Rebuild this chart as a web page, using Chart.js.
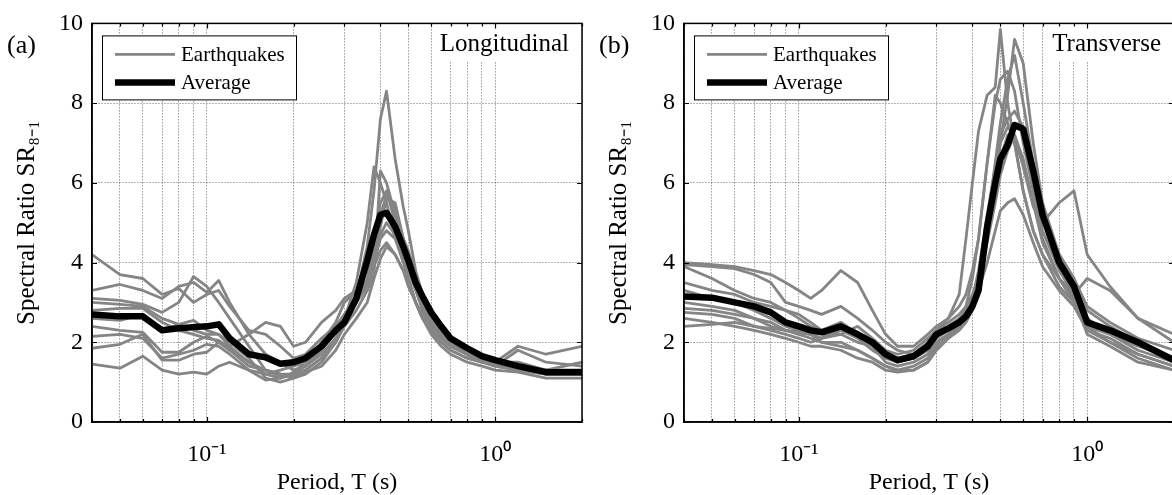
<!DOCTYPE html>
<html><head><meta charset="utf-8">
<script src="https://cdn.jsdelivr.net/npm/chart.js@4.4.0/dist/chart.umd.min.js"></script>
<style>
html,body{margin:0;padding:0;background:#fff;width:1172px;height:495px;overflow:hidden;}
#wrap{position:relative;width:1172px;height:495px;overflow:hidden;}
.panel{position:absolute;top:0;width:600px;height:495px;}
#pa{left:0}
#pb{left:592px}
canvas{display:block}
</style></head><body>
<div id="wrap">
<div class="panel" id="pa"><canvas id="ca" width="600" height="495"></canvas></div>
<div class="panel" id="pb"><canvas id="cb" width="600" height="495"></canvas></div>
</div>
<script>
// ---- data ----
const periods = [0.04,0.05,0.06,0.07,0.08,0.09,0.10,0.11,0.12,
                 0.14,0.16,0.18,0.20,0.22,0.25,0.28,0.30,0.33,
                 0.36,0.38,0.40,0.42,0.45,0.48,0.50,0.53,0.56,
                 0.60,0.65,0.70,0.80,0.90,1.0,1.2,1.5,2.0];
const xGridTicks = [0.04,0.05,0.06,0.07,0.08,0.09,0.1,0.2,0.3,0.4,0.5,0.6,0.7,0.8,0.9,1,2];
const xTickLabels = {0.1:'10⁻¹', 1:'10⁰'};
const yTicks = [0,2,4,6,8,10];
const seriesNames = ['Earthquakes','Average'];
const panelTags = ['(a)','(b)'];
const directionNames = ['Longitudinal','Transverse'];

// (a) Longitudinal
const lonAvg = [2.7,2.65,2.65,2.3,2.35,2.38,2.4,2.45,2.1,
                1.7,1.62,1.46,1.5,1.6,1.9,2.3,2.5,3.1,
                4.05,4.7,5.2,5.25,4.9,4.4,4.05,3.5,3.15,
                2.75,2.4,2.1,1.85,1.65,1.55,1.4,1.25,1.25];
const lonEq1 = [4.2,3.7,3.6,3.2,3.35,3.0,3.2,3.3,2.9, 2.3,2.2,1.9,1.6,1.7,2.1,2.4,2.7,3.1, 3.9,4.6,5.5,5.8,5.0,4.5,4.1,3.5,3.1, 2.7,2.3,2.0,1.8,1.6,1.5,1.35,1.2,1.2];
const lonEq2 = [3.3,3.45,3.3,3.1,3.4,3.5,3.25,3.55,3.0, 2.2,1.7,1.5,1.3,1.4,1.7,2.1,2.5,3.0, 3.6,4.4,5.2,5.7,5.4,4.6,4.2,3.5,3.0, 2.6,2.2,1.9,1.7,1.6,1.5,1.5,1.3,1.3];
const lonEq3 = [3.1,3.05,2.95,2.75,3.0,3.65,3.4,3.0,2.6, 1.9,1.3,1.2,1.1,1.2,1.5,2.0,2.6,3.5, 5.0,6.4,6.0,5.5,4.6,4.0,3.6,3.0,2.7, 2.4,2.1,1.9,1.7,1.5,1.45,1.3,1.2,1.2];
const lonEq4 = [3.0,2.95,2.9,2.6,2.45,2.3,2.2,2.2,2.0, 1.6,1.1,1.0,1.1,1.3,1.6,2.0,2.5,3.2, 4.4,5.8,7.6,8.3,6.6,5.4,4.8,3.8,3.2, 2.7,2.3,2.0,1.7,1.5,1.4,1.3,1.2,1.2];
const lonEq5 = [2.6,2.55,2.7,2.3,2.45,2.55,2.3,2.2,1.9, 1.5,1.3,1.2,1.2,1.4,1.8,2.3,2.6,3.0, 3.4,4.0,4.6,4.8,4.6,4.2,3.8,3.3,2.8, 2.4,2.1,1.9,1.7,1.5,1.4,1.8,1.5,1.4];
const lonEq6 = [2.4,2.3,2.25,1.75,1.75,2.0,2.15,2.0,1.9, 2.2,2.5,2.4,1.9,2.0,2.5,2.8,3.1,3.3, 3.5,3.9,4.3,4.5,4.2,3.8,3.4,3.0,2.6, 2.3,2.0,1.8,1.6,1.5,1.5,1.9,1.7,1.9];
const lonEq7 = [2.15,2.2,2.1,1.6,1.7,1.8,1.95,1.9,1.7, 1.3,1.05,1.1,1.2,1.3,1.6,2.0,2.4,2.8, 3.3,4.0,4.7,5.0,4.7,4.1,3.6,3.0,2.6, 2.2,1.9,1.7,1.5,1.4,1.3,1.25,1.1,1.1];
const lonEq8 = [1.85,1.95,2.2,1.55,1.55,1.7,1.75,2.0,1.8, 1.4,1.3,1.15,1.15,1.25,1.4,1.8,2.2,2.6, 3.0,3.6,4.1,4.4,4.2,3.8,3.5,3.0,2.6, 2.3,2.0,1.8,1.6,1.5,1.45,1.4,1.3,1.5];
const lonEq9 = [1.45,1.35,1.65,1.3,1.2,1.25,1.2,1.4,1.5, 1.3,1.2,1.3,1.4,1.5,1.8,2.3,2.7,3.1, 3.5,4.2,4.9,5.6,5.5,4.6,4.2,3.4,2.9, 2.5,2.1,1.9,1.7,1.55,1.4,1.3,1.3,1.3];
const lonEq10 = [2.8,2.85,2.85,2.5,2.3,2.2,2.1,2.05,1.85, 1.5,1.2,1.1,1.25,1.5,2.0,2.5,3.0,3.3, 3.3,3.7,6.3,6.0,5.2,4.6,4.3,3.7,3.2, 2.7,2.4,2.1,1.8,1.6,1.45,1.35,1.2,1.25];

// (b) Transverse
const traAvg = [3.15,3.12,3.0,2.9,2.75,2.5,2.4,2.3,2.25,
                2.4,2.2,2.0,1.7,1.55,1.65,1.9,2.2,2.35,
                2.5,2.65,2.9,3.3,4.9,6.0,6.6,6.95,7.45,
                7.35,6.3,5.2,4.0,3.4,2.5,2.3,2.0,1.55];
const traEq1 = [4.0,3.95,3.9,3.8,3.7,3.5,3.3,3.1,3.3, 3.8,3.5,2.8,2.2,1.9,1.9,2.2,2.4,2.6, 3.2,4.6,6.0,7.3,8.2,8.4,9.85,8.0,7.0, 5.8,4.8,4.2,3.4,3.0,2.4,2.2,1.9,1.6];
const traEq2 = [3.95,3.9,3.85,3.7,3.5,3.0,2.9,2.8,2.7, 2.9,2.6,2.3,2.0,1.8,1.7,1.9,2.1,2.3, 2.5,2.7,3.0,3.6,5.0,6.5,7.5,8.6,9.2, 8.0,6.5,5.3,4.2,3.6,2.8,2.4,2.0,1.6];
const traEq3 = [3.9,3.6,3.3,3.1,3.0,2.8,2.7,2.5,2.3, 2.5,2.2,2.0,1.7,1.5,1.6,1.8,2.0,2.2, 2.5,2.9,3.6,4.6,6.5,8.2,8.0,7.5,7.0, 5.8,4.8,4.2,3.6,3.2,2.6,2.2,1.8,1.5];
const traEq4 = [3.5,3.3,3.2,3.0,2.9,2.8,2.6,2.4,2.3, 2.2,2.4,2.1,1.8,1.7,1.8,2.1,2.3,2.5, 2.7,2.9,3.2,3.6,4.8,6.0,7.0,8.2,9.6, 9.0,7.0,5.5,4.2,3.6,2.9,2.5,2.1,1.8];
const traEq5 = [3.3,3.1,3.0,2.8,2.6,2.4,2.3,2.2,2.1, 2.2,2.0,1.9,1.5,1.4,1.5,1.7,2.0,2.2, 2.4,2.6,3.0,3.5,4.5,5.5,6.2,6.8,7.2, 6.4,5.4,5.0,5.5,5.8,4.2,3.4,2.6,2.2];
const traEq6 = [3.0,2.9,2.8,2.6,2.5,2.3,2.2,2.1,2.0, 2.0,1.8,1.6,1.4,1.3,1.4,1.6,1.9,2.2, 2.4,2.6,2.9,3.3,4.0,4.8,5.3,5.5,5.6, 5.2,4.5,3.9,3.3,2.9,2.3,2.0,1.7,1.4];
const traEq7 = [2.85,2.8,2.7,2.6,2.4,2.3,2.25,2.2,2.1, 2.3,2.1,1.8,1.6,1.5,1.6,1.9,2.2,2.4, 2.6,2.8,3.1,3.6,5.0,6.4,7.2,7.6,7.8, 7.4,6.3,5.2,3.9,3.1,2.3,2.1,1.7,1.4];
const traEq8 = [2.75,2.7,2.6,2.4,2.35,2.3,2.25,2.2,2.0, 1.9,1.8,1.6,1.4,1.3,1.3,1.5,1.8,2.1, 2.3,2.5,2.8,3.4,4.6,5.8,6.6,7.2,7.0, 6.5,5.5,4.6,3.6,3.1,2.2,1.9,1.5,1.3];
const traEq9 = [2.6,2.5,2.4,2.3,2.2,2.1,2.0,1.9,1.9, 1.8,1.6,1.5,1.3,1.25,1.3,1.5,1.8,2.1, 2.4,2.7,3.1,3.8,5.2,6.4,7.0,7.4,7.2, 6.6,5.5,4.5,3.6,3.0,2.4,2.0,1.6,1.3];
const traEq10 = [2.4,2.45,2.5,2.4,2.3,2.2,2.1,2.0,2.1, 2.5,2.2,1.9,1.7,1.6,1.7,2.0,2.3,2.6, 2.9,3.2,3.8,4.6,6.5,8.0,8.6,8.8,8.3, 7.0,5.8,4.8,3.8,3.2,3.6,3.3,2.6,2.0];

const lonEq = [lonEq1,lonEq2,lonEq3,lonEq4,lonEq5,lonEq6,lonEq7,lonEq8,lonEq9,lonEq10];
const traEq = [traEq1,traEq2,traEq3,traEq4,traEq5,traEq6,traEq7,traEq8,traEq9,traEq10];

// ---- styles ----
const FONT = '"Liberation Serif", "Times New Roman", serif';
const GRAY = '#858585';

const decor = {
  id: 'decor',
  afterDatasetsDraw(chart, args, opts) {
    const {ctx, chartArea: ca} = chart;
    ctx.save();
    ctx.font = `25px ${FONT}`;
    const tw = ctx.measureText(opts.direction).width;
    const tx = ca.right - 13;
    ctx.fillStyle = '#fff';
    ctx.fillRect(tx - tw - 7, ca.top + 1, ca.right - (tx - tw - 7), 37);
    ctx.fillStyle = '#000';
    ctx.textAlign = 'right'; ctx.textBaseline = 'middle';
    ctx.fillText(opts.direction, tx, ca.top + 21);
    const lx = ca.left + 10, ly = ca.top + 12, lw = 194, lh = 64;
    ctx.fillStyle = '#fff'; ctx.fillRect(lx, ly, lw, lh);
    ctx.strokeStyle = '#000'; ctx.lineWidth = 1;
    ctx.strokeRect(lx + 0.5, ly + 0.5, lw, lh);
    const ds = chart.data.datasets;
    const items = [ds[0], ds[ds.length - 1]];
    const rows = [ly + 19, ly + 47];
    ctx.font = `21px ${FONT}`; ctx.textAlign = 'left'; ctx.textBaseline = 'middle';
    items.forEach((d, i) => {
      ctx.strokeStyle = d.borderColor; ctx.lineWidth = d.borderWidth; ctx.lineCap = 'butt';
      ctx.beginPath(); ctx.moveTo(lx + 13, rows[i]); ctx.lineTo(lx + 73, rows[i]); ctx.stroke();
      ctx.fillStyle = '#000';
      ctx.fillText(d.label, lx + 79, rows[i] + 1);
    });
    const xs = chart.scales.x, ys = chart.scales.y;
    ctx.strokeStyle = '#000'; ctx.lineWidth = 1.2;
    xGridTicks.forEach(v => {
      const px = Math.round(xs.getPixelForValue(v)) + 0.5;
      const len = (v === 0.1 || v === 1) ? 5 : 3;
      ctx.beginPath();
      ctx.moveTo(px, ca.bottom); ctx.lineTo(px, ca.bottom - len);
      ctx.moveTo(px, ca.top); ctx.lineTo(px, ca.top + len);
      ctx.stroke();
    });
    yTicks.forEach(v => {
      const py = Math.round(ys.getPixelForValue(v)) + 0.5;
      ctx.beginPath();
      ctx.moveTo(ca.left, py); ctx.lineTo(ca.left + 5, py);
      ctx.moveTo(ca.right, py); ctx.lineTo(ca.right - 5, py);
      ctx.stroke();
    });
    ctx.lineWidth = 1.5; ctx.strokeStyle = '#000';
    ctx.strokeRect(ca.left, ca.top, ca.right - ca.left, ca.bottom - ca.top);
    ctx.restore();
  },
  afterDraw(chart, args, opts) {
    const ctx = chart.ctx;
    ctx.save();
    ctx.font = `26px ${FONT}`; ctx.fillStyle = '#000';
    ctx.textAlign = 'left'; ctx.textBaseline = 'middle';
    ctx.fillText(opts.tag, 7, 46);
    ctx.restore();
  }
};

function makeChart(id, eqList, avg, tag, direction) {
  const datasets = eqList.map(s => ({
    label: seriesNames[0],
    data: periods.map((p, j) => ({x: p, y: s[j]})),
    borderColor: GRAY, borderWidth: 2.8, pointRadius: 0,
    borderJoinStyle: 'round', tension: 0, order: 1
  }));
  datasets.push({
    label: seriesNames[1],
    data: periods.map((p, j) => ({x: p, y: avg[j]})),
    borderColor: '#000', borderWidth: 6.5, pointRadius: 0,
    borderJoinStyle: 'round', tension: 0, order: 0
  });
  const gridCommon = {color: 'rgba(0,0,0,0.6)', lineWidth: 1, drawTicks: false};
  return new Chart(document.getElementById(id), {
    type: 'line',
    data: {datasets},
    options: {
      responsive: false, animation: false, devicePixelRatio: 1,
      layout: {padding: {top: 20, right: 12, left: 0, bottom: 0}},
      plugins: {legend: {display: false}, tooltip: {enabled: false},
                decor: {tag, direction}},
      scales: {
        x: {
          type: 'logarithmic', min: 0.04, max: 2,
          afterBuildTicks: axis => { axis.ticks = xGridTicks.map(v => ({value: v})); },
          afterFit: s => { s.height = 73; },
          ticks: {autoSkip: false, maxRotation: 0, minRotation: 0, padding: 18,
                  color: '#000', font: {family: FONT, size: 24},
                  callback: v => xTickLabels[v] || ''},
          grid: gridCommon,
          border: {display: true, color: '#000', width: 1.5, dash: [1, 2]},
          title: {display: true, text: 'Period, T (s)', color: '#000',
                  font: {family: FONT, size: 24, lineHeight: 1},
                  padding: {top: 0, bottom: 0}}
        },
        y: {
          min: 0, max: 10,
          afterBuildTicks: axis => { axis.ticks = yTicks.map(v => ({value: v})); },
          afterFit: s => { s.width = 92; },
          ticks: {padding: 9, color: '#000', font: {family: FONT, size: 24}},
          grid: gridCommon,
          border: {display: true, color: '#000', width: 1.5, dash: [1, 2]},
          title: {display: true, text: 'Spectral Ratio SR₈₋₁', color: '#000',
                  font: {family: FONT, size: 25, lineHeight: 1},
                  padding: {top: 15, bottom: 0}}
        }
      }
    },
    plugins: [decor]
  });
}

makeChart('ca', lonEq, lonAvg, panelTags[0], directionNames[0]);
makeChart('cb', traEq, traAvg, panelTags[1], directionNames[1]);
</script>
</body></html>
